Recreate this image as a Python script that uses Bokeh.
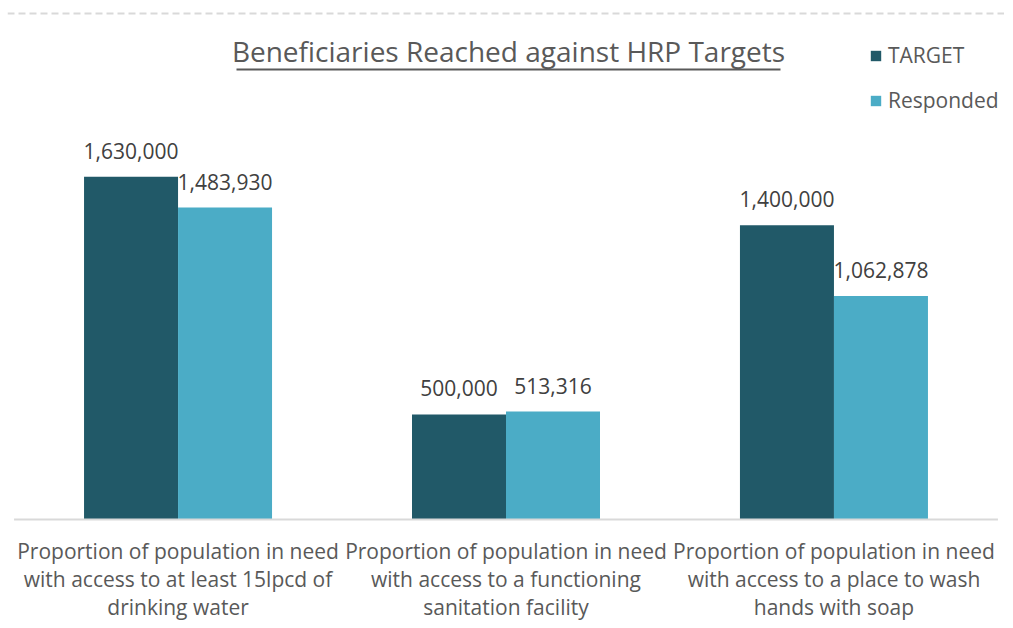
from bokeh.plotting import figure
from bokeh.models import (ColumnDataSource, FactorRange, Range1d, Span, Legend, LegendItem)
from bokeh.transform import dodge
from bokeh.core.properties import value
from bokeh.embed import file_html
from bokeh.resources import INLINE

# ---- data ----
categories = [
    "Proportion of population in need\nwith access to at least 15lpcd of\ndrinking water",
    "Proportion of population in need\nwith access to a functioning\nsanitation facility",
    "Proportion of population in need\nwith access to a place to wash\nhands with soap",
]
target = [1630000, 500000, 1400000]
responded = [1483930, 513316, 1062878]
series_names = ["TARGET", "Responded"]
title_text = "Beneficiaries Reached against HRP Targets"

DARK = "#215968"
LIGHT = "#4BACC6"
TXT = "#595959"
LBL = "#404040"
FONT = "Open Sans"

W, H = 1004, 620
LEFT = 7
BASE = 519          # pixel row of the zero line
K = 4757.0          # data units per pixel
PAD = 0.02
U = (W - LEFT) / (3 + 2 * PAD)   # pixels per category


def ydat(py):
    return (BASE - py) * K


def xdat(px):
    return (px - LEFT) / U - PAD


lines = [c.split("\n") for c in categories]
src = ColumnDataSource(dict(
    cat=categories,
    target=target,
    responded=responded,
    target_lbl=[f"{v:,}" for v in target],
    responded_lbl=[f"{v:,}" for v in responded],
    l1=[l[0] for l in lines],
    l2=[l[1] for l in lines],
    l3=[l[2] for l in lines],
))

p = figure(
    width=W, height=H, output_backend="svg", toolbar_location=None,
    x_range=FactorRange(factors=categories, range_padding=PAD, range_padding_units="absolute"),
    y_range=Range1d(start=-(H - BASE) * K, end=BASE * K),
    x_axis_location=None, y_axis_location=None,
    min_border=0, min_border_left=LEFT, outline_line_color=None,
    background_fill_color="white",
)
p.xgrid.visible = False
p.ygrid.visible = False

bw = 94 / U
r1 = p.vbar(x=dodge("cat", -bw / 2, range=p.x_range), top="target", width=bw,
            source=src, fill_color=DARK, line_color=None)
r2 = p.vbar(x=dodge("cat", bw / 2, range=p.x_range), top="responded", width=bw,
            source=src, fill_color=LIGHT, line_color=None)

# value labels
p.text(x=dodge("cat", -bw / 2, range=p.x_range), y="target", text="target_lbl", source=src,
       text_align="center", text_baseline="alphabetic", y_offset=-26,
       text_font=value(FONT), text_font_size="21px", text_color=LBL)
p.text(x=dodge("cat", bw / 2, range=p.x_range), y="responded", text="responded_lbl", source=src,
       text_align="center", text_baseline="alphabetic", y_offset=-26,
       text_font=value(FONT), text_font_size="21px", text_color=LBL)

# baseline (category axis line)
p.segment(x0=[0], x1=[3], y0=[0], y1=[0], line_color="#d9d9d9", line_width=2)

# category labels (three lines)
for col, off in (("l1", 17), ("l2", 45), ("l3", 73)):
    p.text(x="cat", y=0, text=col, source=src, text_align="center", text_baseline="top",
           y_offset=off, text_font=value(FONT), text_font_size="21px", text_color=TXT)

# title with underline
p.text(x=[xdat(508)], y=[ydat(50)], text=[title_text], text_align="center",
       text_baseline="middle", text_font=value(FONT), text_font_size="28px", text_color=TXT)
p.segment(x0=[xdat(236)], x1=[xdat(780)], y0=[ydat(69)], y1=[ydat(69)],
          line_color=TXT, line_width=2)

# dashed top border
p.add_layout(Span(location=ydat(13), dimension="width", line_color="#d9d9d9",
                  line_width=2, line_dash="7 4"))

legend = Legend(items=[LegendItem(label=series_names[0], renderers=[r1]),
                       LegendItem(label=series_names[1], renderers=[r2])],
                location=(862, 505), orientation="vertical",
                glyph_width=13, glyph_height=13, label_height=30, spacing=15,
                label_standoff=6, padding=0, margin=0, border_line_color=None,
                background_fill_alpha=0,
                label_text_font=FONT, label_text_font_size="21px", label_text_color=TXT)
p.add_layout(legend)

open("out.html", "w").write(file_html(p, INLINE))
